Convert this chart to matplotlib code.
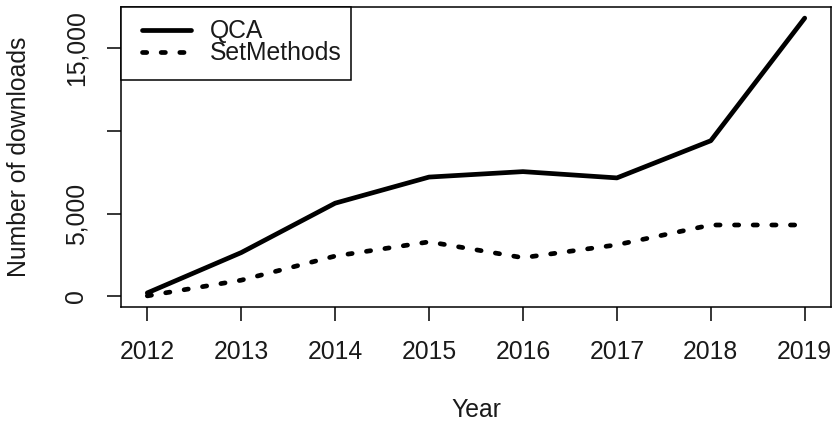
import matplotlib
matplotlib.use("Agg")
import matplotlib.pyplot as plt
from matplotlib.lines import Line2D
from matplotlib.patches import Rectangle

plt.rcParams['font.family'] = ['Liberation Sans', 'DejaVu Sans']

years = [2012, 2013, 2014, 2015, 2016, 2017, 2018, 2019]
qca = [200, 2640, 5630, 7210, 7540, 7160, 9410, 16830]
setmethods = [20, 970, 2430, 3290, 2330, 3110, 4310, 4310]
ytick_values = [0, 5000, 10000, 15000]
ytick_labels = ["0", "5,000", "", "15,000"]
series_names = ["QCA", "SetMethods"]

W, H = 833, 425
fig = plt.figure(figsize=(W / 100, H / 100), dpi=100)

def px(x, y):
    """Figure-pixel (top-left origin) to figure fraction."""
    return x / W, 1 - y / H

L, R, T, B = 121, 831, 7, 307
ax = fig.add_axes([L / W, 1 - B / H, (R - L) / W, (B - T) / H])

FS = 17.8
lw_solid = 3.4
dotted = (0, (0.9, 3.05))

ax.plot(years, qca, color='black', lw=lw_solid, solid_capstyle='round',
        solid_joinstyle='round')
ax.plot(years, setmethods, color='black', lw=lw_solid, linestyle=dotted,
        dash_capstyle='round')

# R-style 4% axis padding
xr = years[-1] - years[0]
ax.set_xlim(years[0] - 0.04 * xr, years[-1] + 0.04 * xr)
ymin = min(min(qca), min(setmethods))
ymax = max(max(qca), max(setmethods))
yr = ymax - ymin
ax.set_ylim(ymin - 0.04 * yr, ymax + 0.04 * yr)

ax.set_xticks(years)
ax.set_xticklabels([str(y) for y in years], fontsize=FS)
ax.set_yticks(ytick_values)
ax.set_yticklabels(ytick_labels, fontsize=FS, rotation=90, va='center')

ax.tick_params(axis='both', direction='out', length=10, width=1.1,
               color='black', labelcolor='#1a1a1a', pad=13.5)
for s in ax.spines.values():
    s.set_linewidth(1.1)
    s.set_color('black')

fig.text(*px(476, 410), "Year", fontsize=FS, ha='center', va='center',
         color='#1a1a1a')
fig.text(*px(19, 157), "Number of downloads", fontsize=FS, rotation=90,
         ha='center', va='center', color='#1a1a1a')

# Legend box in the top-left corner
lx0, ly0 = px(121, 80)
lx1, ly1 = px(351, 7)
fig.patches.append(Rectangle((lx0, ly0), lx1 - lx0, ly1 - ly0,
                             transform=fig.transFigure, facecolor='white',
                             edgecolor='black', lw=1.1, zorder=5))
styles = [dict(linestyle='-', solid_capstyle='round'),
          dict(linestyle=dotted, dash_capstyle='round')]
for i, (name, st) in enumerate(zip(series_names, styles)):
    yy = 30 + 22 * i
    a, b = px(142, yy)
    c, _ = px(191, yy)
    fig.lines.append(Line2D([a, c], [b, b], transform=fig.transFigure,
                            color='black', lw=lw_solid, zorder=6, **st))
    tx, ty = px(210, yy + 1)
    fig.text(tx, ty, name, fontsize=FS, ha='left', va='center',
             color='#1a1a1a', zorder=6)

fig.savefig("out.png", dpi=100)
